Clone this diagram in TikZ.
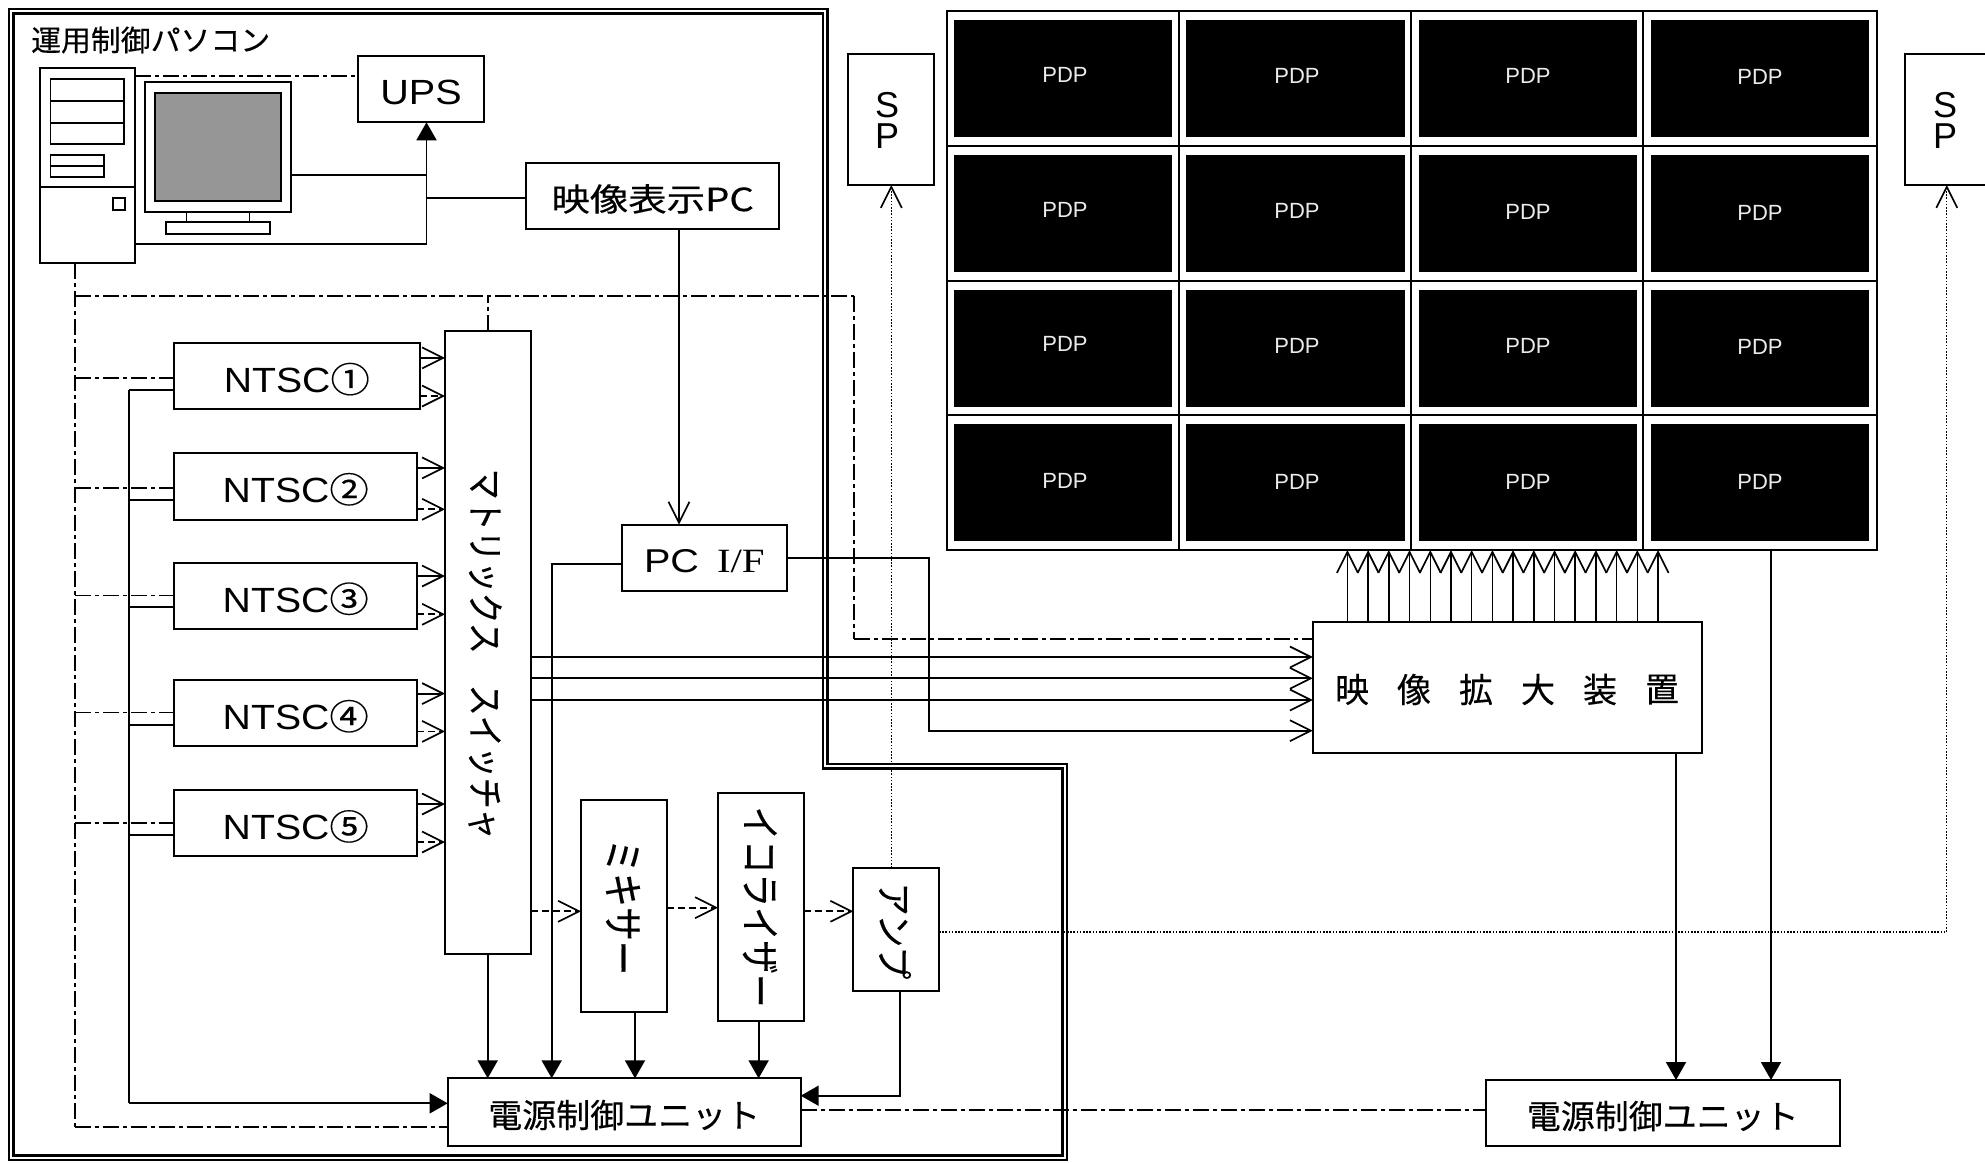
\documentclass[tikz,border=0pt]{standalone}
\usepackage{fontspec}
\setmainfont{Liberation Sans}
\newfontfamily\rmlike{Liberation Serif}
\newfontfamily\jp[FakeBold=0.35]{Noto Sans CJK JP}
\usetikzlibrary{arrows.meta,calc}
\newcommand{\fsz}[1]{\fontsize{#1}{#1}\selectfont}
% horizontally stretched text, as the reference has it, set slightly low in its box
\newcommand{\wide}[2][1.12]{\raisebox{-3pt}[\height][\depth]{\scalebox{#1}[1]{#2}}}
\newcommand{\tall}[2][1.2]{\scalebox{1}[#1]{#2}}
\tikzset{
  x=1pt,y=-1pt,
  ln/.style={line width=1.9pt,black},
  thin line/.style={line width=1.5pt,black},
  boxn/.style={draw,line width=2pt,fill=white,inner sep=0pt,outer sep=0pt,align=center},
  dd/.style={line width=1.8pt,dash pattern=on 16pt off 4pt on 4pt off 4pt},
  ddthin/.style={line width=1.3pt,dash pattern=on 16pt off 4pt on 4pt off 4pt},
  ds/.style={line width=1.8pt,dash pattern=on 7pt off 4pt},
  dot/.style={line width=1.3pt,dash pattern=on 1.6pt off 1.6pt},
  oa/.style={-{Straight Barb[length=21pt,width=21pt,line width=1.7pt]}},
  fa/.style={-{Triangle[length=18pt,width=20pt]}},
  frame/.style={line width=2.4pt},
  pdpt/.style={text=black!8,inner sep=0pt,font=\fsz{22}},
  vtext/.style={rotate=-90,inner sep=0pt,font=\jp\fsz{#1}},
  htext/.style={inner sep=0pt,font=\jp\fsz{#1}},
  sptext/.style={inner sep=0pt,align=center,font=\fontsize{36}{31}\selectfont},
}
% \bx{name}{x1}{y1}{x2}{y2}{text}
\newcommand{\bx}[6]{%
  \pgfmathsetmacro{\cxx}{(#2+#4)/2}\pgfmathsetmacro{\cyy}{(#3+#5)/2}%
  \pgfmathsetmacro{\wdd}{#4-#2}\pgfmathsetmacro{\htt}{#5-#3}%
  \node[boxn,minimum width=\wdd pt,minimum height=\htt pt] (#1) at (\cxx,\cyy) {#6};}
\begin{document}
\begin{tikzpicture}
\useasboundingbox (0,0) rectangle (1985,1162);
\clip (0,0) rectangle (1985,1162);
\fill[white] (0,0) rectangle (1985,1162);
% double frame
\draw[frame] (9,9) -- (827.5,9) -- (827.5,763.7) -- (1067,763.7) -- (1067,1160) -- (9,1160) -- cycle;
\draw[frame] (13.5,13.5) -- (823,13.5) -- (823,768.5) -- (1062.5,768.5) -- (1062.5,1155.5) -- (13.5,1155.5) -- cycle;
\node[htext=29,anchor=west] (lab) at (31,40) {\scalebox{1.03}[1]{運用制御パソコン}};
% display wall
\bx{wall}{946.7}{11}{1876.7}{550}{}
\draw[ln] (1179,11) -- (1179,550) (1411.3,11) -- (1411.3,550) (1643.3,11) -- (1643.3,550)
  (946.7,146) -- (1876.7,146) (946.7,280.7) -- (1876.7,280.7) (946.7,415.3) -- (1876.7,415.3);
\foreach \n/\xa/\xb/\tx/\ya/\yb/\yc/\yd in {
  1/954/1172.3/1065/74.5/210/344/481,
  2/1186.3/1405/1297/76/211/345.5/482,
  3/1418.5/1637/1528/76/212/345.5/482,
  4/1650.5/1869/1760/77/213/346.6/482}{
  \foreach \r/\top/\ty in {1/20/\ya,2/154.7/\yb,3/289.5/\yc,4/424.3/\yd}{
    \pgfmathsetmacro{\bot}{\top+117}
    \fill[black] (\xa,\top) rectangle (\xb,\bot);
    \node[pdpt] (pdp\n\r) at (\tx,\ty) {PDP};
  }
}
% speakers
\bx{spa}{847.7}{53.7}{934}{185}{}
\node[sptext] (spat) at (887,120) {S\\P};
\bx{spb}{1905}{53.7}{2000}{185}{}
\node[sptext] (spbt) at (1945,120) {S\\P};
% computer tower
\bx{tower}{40}{68}{135}{263}{}
\draw[ln] (tower.west |- 0,187) -- (tower.east |- 0,187);
\draw[ln] (50.5,79) rectangle (124,144.3) (50.5,100.7) -- (124,100.7) (50.5,122.7) -- (124,122.7);
\draw[ln] (50.5,154.7) rectangle (104,177) (50.5,165.7) -- (104,165.7);
\draw[ln] (113,198) rectangle (124.6,210);
% monitor
\bx{monitor}{144.7}{82}{291}{211.7}{}
\draw[ln,fill=black!41] (155,92.7) rectangle (281,201);
\draw[thin line] (186.6,211.7) -- (186.6,221.7) (249.7,211.7) -- (249.7,221.7);
\draw[ln] (166,221.7) rectangle (270,234);
% boxes
\bx{ups}{358}{55.7}{484}{122.3}{\wide[1.13]{\fsz{35}UPS}}
\bx{pc}{526.4}{162.7}{779}{229.3}{\wide[1.2]{\jp\fsz{32}映像表示PC}}
\bx{matrix}{445}{331}{530.5}{954}{}
\node[vtext=31] (matrixt) at (485,654) {\tall{マトリックス　スイッチャ}};
\bx{ntsca}{174}{342.9}{419.6}{409.3}{\wide{\fsz{35}NTSC{\jp\fsz{35}①}}}
\bx{ntscb}{174}{452.9}{417.4}{519.6}{\wide{\fsz{35}NTSC{\jp\fsz{35}②}}}
\bx{ntscc}{174}{562.5}{417.4}{629}{\wide{\fsz{35}NTSC{\jp\fsz{35}③}}}
\bx{ntscd}{174}{680}{417.4}{746.4}{\wide{\fsz{35}NTSC{\jp\fsz{35}④}}}
\bx{ntsce}{174}{790.4}{417.4}{856.4}{\wide{\fsz{35}NTSC{\jp\fsz{35}⑤}}}
\bx{pcif}{621.7}{524.7}{787}{591}{\wide[1.2]{\fsz{33}PC\hspace{15pt}{\rmlike\fsz{34}I/F}}}
\bx{mixer}{581}{800}{666.7}{1011.7}{}
\node[vtext=34] (mixert) at (623,907) {\tall{ミキサー}};
\bx{eq}{718}{793}{803.5}{1020.7}{}
\node[vtext=33.5] (eqt) at (760,907) {\tall{イコライザー}};
\bx{amp}{853.3}{867.7}{939}{990.7}{}
\node[vtext=33] (ampt) at (895,931) {\tall[1.12]{アンプ}};
\bx{unita}{447.7}{1078.3}{800.7}{1145.7}{\wide[1.03]{\jp\fsz{33}電源制御ユニット}}
\bx{unitb}{1486}{1080}{1839.5}{1146}{\wide[1.03]{\jp\fsz{33}電源制御ユニット}}
\bx{zoomer}{1312.8}{622.3}{1702}{753.3}{}
\foreach \c [count=\i from 0] in {映,像,拡,大,装,置}{
  \pgfmathsetmacro{\xx}{1352+62*\i}
  \node[htext=34] (zt\i) at (\xx,689.5) {\c};
}
% --- power / signal solid connectors top-left
\coordinate (busu) at (426.5,244);
\draw[ln,fa] (busu) -- (ups.south -| busu);
\draw[ln] (tower.east |- busu) -- (busu);
\draw[ln] (monitor.east |- 0,175) -- (busu |- 0,175);
\draw[ln] (pc.west |- 0,198) -- (busu |- 0,198);
\draw[dd] (tower.east |- 0,75.7) -- (ups.west |- 0,75.7);
% PC to I/F
\draw[thin line,oa] (pc.south -| 679,0) -- (pcif.north -| 679,0);
% main dash-dot buses
\coordinate (ddl) at (75,295.7);
\coordinate (ddr) at (854,295.7);
\coordinate (ddb) at (75,1126.7);
\draw[ddthin] (tower.south -| ddl) -- (ddb);
\draw[dd] (ddb) -- (unita.west |- ddb);
\draw[dd] (ddl) -- (ddr);
\draw[dd] (matrix.north -| 488,0) -- (488,295.7);
\draw[ddthin] (ddr) -- (854,639.3);
\draw[dd] (854,639.3) -- (zoomer.west |- 0,639.3);
% NTSC connections
\coordinate (busn) at (129,390);
\foreach \b/\ya/\yb/\yc/\yd in {ntsca/377.9/390/357.9/396, ntscb/487.9/500/467.9/509.3, ntscc/595.4/607/576/614.3, ntscd/712.5/724.6/693.6/731.4, ntsce/822.9/835/804/842}{
  \draw[dd] (ddl |- 0,\ya) -- (\b.west |- 0,\ya);
  \draw[ln] (busn |- 0,\yb) -- (\b.west |- 0,\yb);
  \draw[ln,oa] (\b.east |- 0,\yc) -- (matrix.west |- 0,\yc);
  \draw[ds,oa] (\b.east |- 0,\yd) -- (matrix.west |- 0,\yd);
}
\draw[ln] (busn) -- (129,1103.3);
\draw[ln,fa] (129,1103.3) -- (unita.west |- 0,1103.3);
% matrix to zoomer
\foreach \y in {657,678.3,700}{
  \draw[ln,oa] (matrix.east |- 0,\y) -- (zoomer.west |- 0,\y);
}
% PC I/F
\draw[ln,fa] (pcif.west |- 0,564) -- (551.7,564) -- (unita.north -| 551.7,0);
\draw[ln,oa] (pcif.east |- 0,557.7) -- (929.4,557.7) -- (929.4,730.7) -- (zoomer.west |- 0,730.7);
% audio chain
\draw[ds,oa] (matrix.east |- 0,911.3) -- (mixer.west |- 0,911.3);
\draw[ds,oa] (mixer.east |- 0,907.7) -- (eq.west |- 0,907.7);
\draw[ds,oa] (eq.east |- 0,911.3) -- (amp.west |- 0,911.3);
% dotted speakers
\draw[dot,oa] (amp.north -| 891.3,0) -- (spa.south -| 891.3,0);
\draw[dot,oa] (amp.east |- 0,932) -- (1946.8,932) -- (spb.south -| 1946.8,0);
% to power unit
\draw[ln,fa] (matrix.south -| 487.7,0) -- (unita.north -| 487.7,0);
\draw[ln,fa] (mixer.south -| 635,0) -- (unita.north -| 635,0);
\draw[ln,fa] (eq.south -| 758.6,0) -- (unita.north -| 758.6,0);
\draw[ln,fa] (amp.south -| 900,0) -- (900,1095.7) -- (unita.east |- 0,1095.7);
\draw[dd] (unita.east |- 0,1110) -- (unitb.west |- 0,1110);
% zoomer to wall
\foreach \i in {0,...,15}{
  \pgfmathsetmacro{\xx}{1347.4+20.71*\i}
  \draw[thin line,oa] (zoomer.north -| \xx,0) -- (wall.south -| \xx,0);
}
\draw[ln,fa] (zoomer.south -| 1676,0) -- (unitb.north -| 1676,0);
\draw[ln,fa] (wall.south -| 1771,0) -- (unitb.north -| 1771,0);
\end{tikzpicture}
\end{document}
